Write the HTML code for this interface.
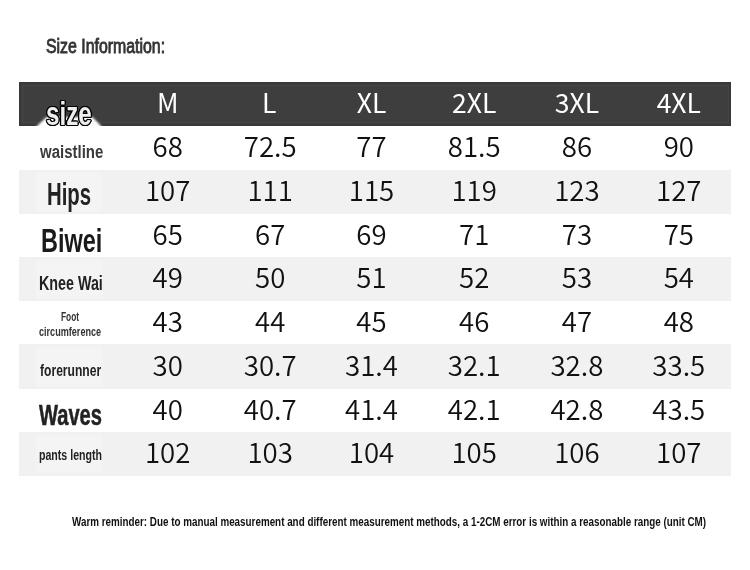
<!DOCTYPE html>
<html><head><meta charset="utf-8"><title>Size Information</title>
<style>
html,body{margin:0;padding:0;background:#fff;}
body{width:750px;height:570px;position:relative;overflow:hidden;font-family:"Liberation Sans", "DejaVu Sans", sans-serif;}
.t{position:absolute;white-space:nowrap;transform-origin:0 0;line-height:0;display:block;}
.hd{position:absolute;left:19px;top:82px;width:712px;height:43.8px;background:#3e3e3e;box-shadow:inset 0 0 0 2px #393939;}
.hd:after{content:"";position:absolute;left:2.5px;top:2.5px;right:2.5px;bottom:2.5px;border:1px solid #454545;}
.p{position:absolute;left:36px;width:66px;background:#f4f4f4;filter:blur(1.5px);}
.r{position:absolute;left:19px;width:712px;}
.g{background:#f1f1f1;}
.n{position:absolute;white-space:nowrap;font-family:"Noto Sans CJK SC", "Liberation Sans", sans-serif;font-size:27.6px;color:#111;transform:translate(-50%,-50%);line-height:1;font-weight:350;}
.h{position:absolute;white-space:nowrap;font-family:"Noto Sans CJK SC", "Liberation Sans", sans-serif;font-size:26.5px;color:#fff;transform:translate(-50%,-50%);line-height:1;font-weight:400;}
</style></head><body>
<div class="hd"></div>
<div class="r g" style="top:169.6px;height:44.4px"></div>
<div class="p" style="top:172.6px;height:38.4px"></div>
<div class="r g" style="top:256.8px;height:43.8px"></div>
<div class="p" style="top:259.8px;height:37.8px"></div>
<div class="r g" style="top:344.2px;height:44.4px"></div>
<div class="p" style="top:347.2px;height:38.4px"></div>
<div class="r g" style="top:431.5px;height:44.0px"></div>
<div class="p" style="top:434.5px;height:38.0px"></div>
<svg style="position:absolute;left:30px;top:110px;filter:blur(0.9px)" width="90" height="20" viewBox="30 110 90 20"><polygon points="36.5,126.5 46.5,117 92.5,117 101.5,126.5 101.5,130 36.5,130" fill="#fff"/></svg>
<div class="t" style="left:46.09px;top:45.60px;font-size:19.57px;font-weight:400;color:#333;-webkit-text-stroke:0.85px #333;paint-order:stroke fill;transform:scaleX(0.8113)">Size Information:</div>
<div class="t" style="left:45.65px;top:114.09px;font-size:32.83px;font-weight:700;color:#ededed;-webkit-text-stroke:0.70px #ededed;paint-order:stroke fill;text-shadow:1.63px 0.00px 0 #000,1.51px 0.46px 0 #000,1.15px 0.85px 0 #000,0.62px 1.11px 0 #000,0.00px 1.20px 0 #000,-0.62px 1.11px 0 #000,-1.15px 0.85px 0 #000,-1.51px 0.46px 0 #000,-1.63px 0.00px 0 #000,-1.51px -0.46px 0 #000,-1.15px -0.85px 0 #000,-0.62px -1.11px 0 #000,-0.00px -1.20px 0 #000,0.62px -1.11px 0 #000,1.15px -0.85px 0 #000,1.51px -0.46px 0 #000;transform:scaleX(0.7365)">size</div>
<div class="t" style="left:39.88px;top:152.08px;font-size:18.76px;font-weight:700;color:#3a3a3a;transform:scaleX(0.8001)">waistline</div>
<div class="t" style="left:46.68px;top:194.85px;font-size:31.22px;font-weight:700;color:#222;transform:scaleX(0.6511)">Hips</div>
<div class="t" style="left:40.67px;top:241.32px;font-size:32.75px;font-weight:700;color:#1a1a1a;transform:scaleX(0.7168)">Biwei</div>
<div class="t" style="left:39.07px;top:282.70px;font-size:19.86px;font-weight:700;color:#222;transform:scaleX(0.7198)">Knee Wai</div>
<div class="t" style="left:60.96px;top:316.50px;font-size:12.37px;font-weight:700;color:#333;transform:scaleX(0.6759)">Foot</div>
<div class="t" style="left:38.98px;top:332.19px;font-size:12.69px;font-weight:700;color:#333;transform:scaleX(0.7158)">circumference</div>
<div class="t" style="left:40.32px;top:370.65px;font-size:16.55px;font-weight:700;color:#222;transform:scaleX(0.7319)">forerunner</div>
<div class="t" style="left:39.20px;top:415.08px;font-size:28.84px;font-weight:700;color:#222;-webkit-text-stroke:0.50px #222;paint-order:stroke fill;transform:scaleX(0.6968)">Waves</div>
<div class="t" style="left:39.31px;top:455.12px;font-size:14.34px;font-weight:700;color:#222;transform:scaleX(0.7392)">pants length</div>
<div class="t" style="left:72.40px;top:521.67px;font-size:12.46px;font-weight:700;color:#111;transform:scaleX(0.7904)">Warm reminder: Due to manual measurement and different measurement methods, a 1-2CM error is within a reasonable range (unit CM)</div>
<div class="h" style="left:167.7px;top:102.1px">M</div>
<div class="h" style="left:269.2px;top:102.1px">L</div>
<div class="h" style="left:371.5px;top:102.1px">XL</div>
<div class="h" style="left:474.2px;top:102.1px">2XL</div>
<div class="h" style="left:576.9px;top:102.1px">3XL</div>
<div class="h" style="left:678.8px;top:102.1px">4XL</div>
<div class="n" style="left:167.7px;top:146.3px">68</div>
<div class="n" style="left:270.2px;top:146.3px">72.5</div>
<div class="n" style="left:371.5px;top:146.3px">77</div>
<div class="n" style="left:474.2px;top:146.3px">81.5</div>
<div class="n" style="left:576.9px;top:146.3px">86</div>
<div class="n" style="left:678.8px;top:146.3px">90</div>
<div class="n" style="left:167.7px;top:190.3px">107</div>
<div class="n" style="left:270.2px;top:190.3px">111</div>
<div class="n" style="left:371.5px;top:190.3px">115</div>
<div class="n" style="left:474.2px;top:190.3px">119</div>
<div class="n" style="left:576.9px;top:190.3px">123</div>
<div class="n" style="left:678.8px;top:190.3px">127</div>
<div class="n" style="left:167.7px;top:233.9px">65</div>
<div class="n" style="left:270.2px;top:233.9px">67</div>
<div class="n" style="left:371.5px;top:233.9px">69</div>
<div class="n" style="left:474.2px;top:233.9px">71</div>
<div class="n" style="left:576.9px;top:233.9px">73</div>
<div class="n" style="left:678.8px;top:233.9px">75</div>
<div class="n" style="left:167.7px;top:277.2px">49</div>
<div class="n" style="left:270.2px;top:277.2px">50</div>
<div class="n" style="left:371.5px;top:277.2px">51</div>
<div class="n" style="left:474.2px;top:277.2px">52</div>
<div class="n" style="left:576.9px;top:277.2px">53</div>
<div class="n" style="left:678.8px;top:277.2px">54</div>
<div class="n" style="left:167.7px;top:320.9px">43</div>
<div class="n" style="left:270.2px;top:320.9px">44</div>
<div class="n" style="left:371.5px;top:320.9px">45</div>
<div class="n" style="left:474.2px;top:320.9px">46</div>
<div class="n" style="left:576.9px;top:320.9px">47</div>
<div class="n" style="left:678.8px;top:320.9px">48</div>
<div class="n" style="left:167.7px;top:364.9px">30</div>
<div class="n" style="left:270.2px;top:364.9px">30.7</div>
<div class="n" style="left:371.5px;top:364.9px">31.4</div>
<div class="n" style="left:474.2px;top:364.9px">32.1</div>
<div class="n" style="left:576.9px;top:364.9px">32.8</div>
<div class="n" style="left:678.8px;top:364.9px">33.5</div>
<div class="n" style="left:167.7px;top:408.6px">40</div>
<div class="n" style="left:270.2px;top:408.6px">40.7</div>
<div class="n" style="left:371.5px;top:408.6px">41.4</div>
<div class="n" style="left:474.2px;top:408.6px">42.1</div>
<div class="n" style="left:576.9px;top:408.6px">42.8</div>
<div class="n" style="left:678.8px;top:408.6px">43.5</div>
<div class="n" style="left:167.7px;top:452.0px">102</div>
<div class="n" style="left:270.2px;top:452.0px">103</div>
<div class="n" style="left:371.5px;top:452.0px">104</div>
<div class="n" style="left:474.2px;top:452.0px">105</div>
<div class="n" style="left:576.9px;top:452.0px">106</div>
<div class="n" style="left:678.8px;top:452.0px">107</div>
</body></html>
